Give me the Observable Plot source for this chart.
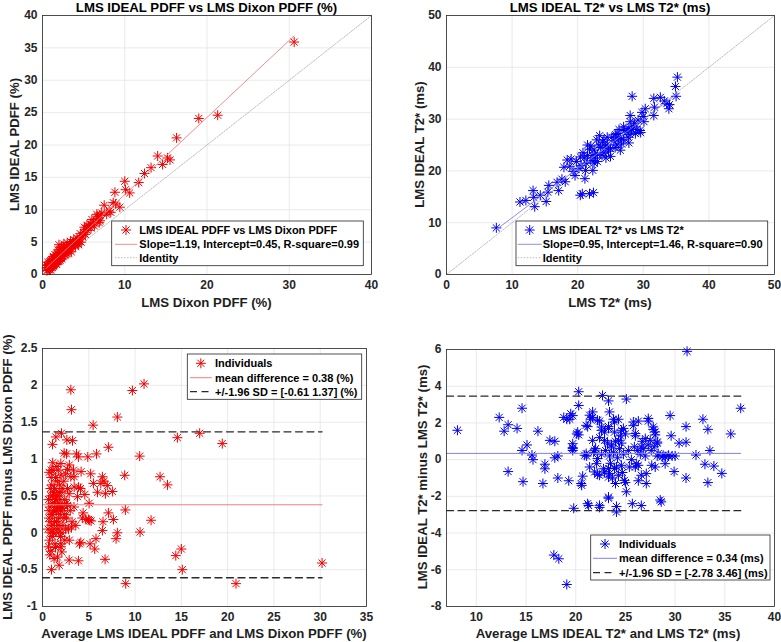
<!DOCTYPE html>
<html>
<head>
<meta charset="utf-8">
<script src="https://cdn.jsdelivr.net/npm/d3@7"></script>
<script src="https://cdn.jsdelivr.net/npm/@observablehq/plot@0.6"></script>
<style>
  html, body { margin: 0; padding: 0; background: #fff; }
  #root { position: relative; width: 781px; height: 642px; overflow: hidden; background: #fff; }
</style>
</head>
<body>
<div id="root"></div>
<script>
// ---------------- DATA ----------------
// Panel A: LMS Dixon PDFF (x) vs LMS IDEAL PDFF (y), %
const pdffScatter = [
  [30.6,35.9],[19.0,24.1],[21.3,24.6],[16.3,21.1],[14.0,18.3],[15.2,18.0],[15.5,17.7],[14.6,17.0],
  [13.2,16.5],[12.4,15.6],[11.7,14.2],[10.0,14.4],[10.1,13.1],[10.6,12.6],[8.8,12.7],[9.4,10.4],
  [8.6,11.1],[7.5,10.7],[8.1,9.8],[7.2,9.5],[6.7,9.0],[8.9,10.9],[8.3,9.6],[7.8,9.3],[7.0,9.1],
  [5.0,6.5],[5.3,7.0],[5.6,7.5],[5.9,7.2],[6.2,8.0],[6.5,8.4],[6.8,8.7],[7.0,8.3],[6.3,7.5],
  [5.5,6.8],[4.8,6.0],[5.1,7.3],[6.0,8.5],[6.6,9.3],[5.8,7.8],[4.6,6.3],[4.9,5.8],[5.2,6.2],
  [6.9,8.0],[5.4,7.6],
  [2.5,3.5],[2.7,3.0],[2.9,4.0],[3.1,3.8],[3.3,4.5],[3.5,4.0],[3.7,4.9],[3.9,4.6],[4.1,5.0],
  [4.3,4.8],[4.5,5.5],[2.6,4.2],[3.0,4.9],[3.4,5.1],[3.8,5.4],[4.2,5.6],[4.4,4.6],[3.2,3.3],
  [2.8,3.6],[3.6,4.4],[4.0,4.3],[2.4,2.8],[2.2,3.4],[2.0,4.6],[1.9,3.8],[4.7,5.0],[3.5,3.5],
  [3.0,3.2],[4.0,5.2],[3.3,4.0],
  [0.5,1.0],[0.6,1.4],[0.7,0.8],[0.8,1.2],[0.9,1.6],[1.0,1.0],[1.1,1.5],[1.2,1.9],[1.3,1.3],
  [1.4,2.0],[1.5,1.7],[1.6,2.4],[1.7,2.0],[1.8,2.6],[1.9,2.2],[2.0,2.9],[2.1,2.5],[2.2,3.0],
  [2.3,2.7],[2.4,3.3],[0.55,0.6],[0.65,1.9],[0.75,1.1],[0.85,0.7],[0.95,1.3],[1.05,2.1],
  [1.15,1.2],[1.25,1.6],[1.35,2.5],[1.45,1.5],[1.55,2.0],[1.65,1.6],[1.75,2.9],[1.85,2.0],
  [1.95,2.4],[2.05,3.5],[2.15,2.2],[2.25,3.9],[2.35,2.4],[2.45,2.9],[0.8,1.7],[1.0,1.4],
  [1.2,1.1],[1.4,1.7],[1.6,1.9],[1.8,2.3],[2.0,2.0],[1.1,2.3],[0.9,2.0],[1.3,2.8],[1.7,1.6],
  [1.5,3.1],[0.7,1.5],[1.2,2.2],[1.9,3.2],[2.1,3.8],[2.3,4.2],[2.6,4.7],[1.0,0.7],[0.6,1.1]
];
const pdffFit = { slope: 1.19, intercept: 0.45 };

// Panel B: LMS T2* (x) vs LMS IDEAL T2* (y), ms
const t2Scatter = [
  [7.6,9.0],[35.2,38.1],[34.9,36.3],[35.0,34.4],[28.3,34.4],[33.9,32.0],[33.6,33.0],[32.6,34.2],
  [31.6,34.0],[31.7,32.3],[31.6,30.7],[30.3,32.0],[29.8,31.3],[29.5,27.8],[29.6,27.4],[28.0,30.7],
  [27.8,25.4],[23.35,26.8],[21.8,15.6],[20.7,15.6],[20.4,15.3],[22.4,15.8],[21.1,18.5],[21.2,20.1],
  [22.3,20.1],[19.6,19.1],[19.3,19.9],[18.8,20.9],[18.4,22.1],[18.1,17.9],[17.6,18.4],[16.85,17.8],
  [17.1,16.2],[15.6,17.2],[15.45,15.9],[15.2,14.1],[14.3,15.3],[13.2,16.2],[13.3,14.9],[13.45,13.1],
  [12.1,14.3],[11.2,14.0],[20.4,22.7],[17.9,20.7],[19.0,22.3],[33.2,33.5],[34.0,32.8],[30.0,30.5],
  [30.1,29.5],
  [20.5,21.0],[21.0,22.5],[21.5,23.0],[22.0,22.0],[22.5,24.0],[23.0,23.2],[23.5,24.5],[24.0,23.5],
  [24.5,25.0],[25.0,24.3],[25.5,25.8],[26.0,25.0],[26.5,26.5],[27.0,26.0],[27.5,27.5],[28.0,27.0],
  [28.5,28.5],[29.0,28.0],[20.8,23.5],[21.3,21.5],[21.8,24.2],[22.2,23.0],[22.7,22.5],[23.2,25.0],
  [23.7,23.0],[24.2,24.8],[24.7,23.8],[25.2,26.5],[25.7,24.5],[26.2,26.2],[26.7,25.2],[27.2,27.8],
  [27.7,26.5],[28.2,28.0],[28.7,29.2],[29.2,29.8],[22.0,24.8],[23.0,21.8],[24.0,26.0],[25.0,22.8],
  [26.0,27.2],[27.0,28.5],[28.0,29.5],[22.5,21.5],[24.5,26.5],[26.5,24.0],[21.5,25.0],[20.2,20.5],
  [19.8,21.8],[23.8,25.6],[25.8,27.0],[27.8,28.2],[28.8,27.2],[26.3,28.0],[24.3,22.5],[22.9,26.0]
];
const t2Fit = { slope: 0.95, intercept: 1.46 };

// Panel C: Bland-Altman PDFF (average, difference), %
const baPdff = [
  [3.06,1.94],[3.13,1.67],[9.71,1.93],[10.97,2.02],[8.09,1.57],[5.47,1.46],[14.57,1.29],[16.98,1.35],
  [19.42,1.21],[7.12,1.16],[10.5,1.04],[5.83,1.07],[4.89,1.03],[8.88,0.78],[12.7,0.76],[13.5,0.65],
  [8.95,0.31],[11.73,0.17],[10.54,0.01],[8.09,0.0],[7.95,-0.08],[14.4,-0.31],[15.0,-0.22],[15.1,-0.5],
  [8.99,-0.69],[20.9,-0.69],[30.2,-0.41],[6.76,-0.36],[5.04,0.40],[4.96,0.18],[7.12,0.27],[7.66,0.18],
  [6.47,0.03],[6.54,0.15],[7.55,0.56],[6.8,0.53],[5.94,0.55],[6.47,0.76],[6.65,0.70],[6.3,0.67],
  [5.5,0.67],[5.2,0.80],[7.0,0.64],[5.78,-0.08],[5.64,-0.22],[5.14,-0.15],[4.14,-0.13],[4.0,-0.15],
  [2.88,-0.37],[3.88,-0.38],[1.8,-0.44],[0.97,-0.5],[4.68,0.18],[4.39,0.27],[4.57,0.52],[4.17,0.83],
  [3.35,0.85],[2.7,0.86],[3.88,1.03],[3.67,1.07],[2.59,1.07],[2.34,1.08],[3.24,1.25],[2.63,1.26],
  [2.05,1.35],[1.44,1.3],[1.08,1.2],[1.98,0.94],[0.72,0.82],[3.42,0.62],[2.88,0.53],[3.78,0.49],
  [2.7,0.37],[2.19,0.33],[3.13,0.08],[2.41,-0.1],[1.98,-0.19],[2.09,-0.26],[1.62,-0.33],[0.65,-0.19],
  [3.42,0.76],[3.06,0.76],[4.1,0.6],[5.1,0.17],[5.25,0.16],[4.3,0.2],[3.9,0.62],[2.0,0.78],[2.9,0.92],
  [0.6,0.05],[0.7,0.2],[0.8,0.35],[0.9,0.5],[1.0,0.1],[1.1,-0.05],[1.2,0.3],[1.3,0.6],[1.4,0.45],
  [1.5,0.15],[1.6,0.7],[1.7,0.0],[1.8,0.4],[1.9,0.25],[2.0,0.55],[2.2,0.1],[2.4,0.45],[2.6,0.2],
  [0.75,-0.1],[0.85,0.6],[0.95,0.75],[1.05,0.4],[1.15,0.85],[1.25,0.05],[1.35,-0.15],[1.45,0.3],
  [1.55,0.9],[1.65,0.5],[1.75,0.2],[1.85,0.65],[1.95,-0.05],[2.1,0.35],[2.3,0.7],[2.5,0.05],
  [0.65,0.45],[0.8,0.15],[0.9,-0.25],[1.0,0.65],[1.1,0.25],[1.2,0.55],[1.3,0.15],[1.4,-0.2],
  [1.5,0.5],[1.6,0.35],[1.7,0.85],[1.8,0.1],[1.9,0.45],[2.0,-0.15],[2.2,0.6],[2.4,0.25],
  [0.7,0.3],[0.85,0.0],[1.0,0.25],[1.1,0.5],[1.2,0.0],[1.3,0.4],[1.4,0.75],[1.5,0.3],[1.6,0.05],
  [1.7,0.35],[1.8,0.55],[1.95,0.3],[2.1,0.0],[2.3,0.2],[2.6,0.4],[2.8,0.05],[3.0,0.3],[3.2,0.15],
  [2.7,0.6],[3.4,0.35],[2.9,-0.1],[3.6,0.1],[2.5,0.8],[1.1,0.95],[0.8,-0.3],[1.25,-0.35],[0.95,0.85]
];
const baPdffStats = { mean: 0.38, lower: -0.61, upper: 1.37 };

// Panel D: Bland-Altman T2* (average, difference), ms
const baT2 = [
  [8.1,1.6],[31.2,5.9],[36.6,2.8],[20.3,3.7],[22.7,3.5],[23.3,3.2],[25.1,3.3],[20.3,2.95],[14.6,2.8],
  [12.3,2.3],[13.2,1.9],[14.1,1.7],[12.8,1.55],[16.2,1.55],[17.4,1.05],[17.9,1.0],[15.1,0.8],
  [14.6,0.5],[15.6,0.25],[15.7,0.0],[16.9,-0.25],[16.9,-0.5],[13.2,-0.65],[14.7,-1.2],[16.7,-1.3],
  [18.2,-1.0],[19.3,-1.15],[20.7,-0.9],[20.6,-1.4],[17.9,0.1],[18.2,0.2],[19.7,0.65],[19.7,0.5],
  [18.8,2.3],[19.4,2.2],[19.7,2.4],[19.1,2.2],[19.5,2.5],[20.3,1.35],[20.1,1.4],[21.1,0.2],[21.2,1.8],
  [21.7,2.3],[21.5,2.2],[22.4,2.1],[19.8,-2.65],[21.3,-2.5],[22.4,-2.6],[23.3,-2.1],[24.1,-2.55],
  [24.1,-2.85],[25.7,-2.4],[26.6,-2.5],[25.1,-1.75],[25.0,-1.25],[27.1,-1.3],[26.3,-1.15],[28.5,-2.2],
  [28.6,-2.3],[29.5,2.4],[29.6,1.3],[29.9,-0.65],[31.1,1.8],[31.1,0.95],[31.1,-1.0],[30.4,0.9],
  [32.1,0.25],[32.8,2.2],[33.3,1.65],[33.5,0.5],[33.0,-0.25],[33.9,-0.35],[33.3,-1.25],[34.7,-0.75],
  [35.6,1.4],[26.3,2.1],[27.3,2.1],[27.8,1.65],[28.0,1.35],[25.0,1.4],[25.8,1.85],[26.0,1.3],
  [17.8,-5.2],[18.3,-5.4],[19.1,-6.8],[28.2,0.2],[28.7,0.15],[29.0,0.15],[29.3,0.2],[29.7,0.2],
  [30.0,0.2],
  [23.4,2.6],[23.8,2.2],[23.9,2.05],[24.6,1.6],[25.8,2.05],[26.0,1.42],[27.3,2.24],[27.8,1.78],
  [28.0,1.51],[27.0,1.15],[27.5,1.05],[26.6,0.69],[28.2,0.96],[28.3,0.33],[28.8,0.24],[29.35,0.24],
  [26.1,-0.22],[26.3,-0.31],[27.65,-0.31],[28.0,-0.4],[29.0,-0.22],[24.6,-0.31],[23.9,-0.49],
  [23.4,-0.76],[24.3,-0.85],[24.9,-1.13],[27.1,-0.76],[26.6,-0.85],[23.6,0.69],[24.3,1.05],
  [22.9,1.05],[22.6,1.78],[20.2,1.5],[19.7,0.87],[19.7,0.6],[20.9,0.24],[21.05,0.33],[21.4,2.42],
  [21.7,2.6],[22.2,2.15],[21.05,1.87],[22.6,1.6],[22.9,1.5],[23.3,1.7],[21.7,1.05],[21.9,0.51],
  [22.2,0.06],[22.1,-0.22],[22.4,-0.85],[22.9,-0.67],[23.3,-0.49],[23.3,-0.95],[21.4,-0.4],
  [21.9,-0.67],[20.55,-1.3],[23.3,-2.04],[21.2,-2.4],[22.4,-2.49],
  [23.0,0.5],[23.2,0.9],[23.4,0.2],[23.6,0.8],[23.8,0.4],[24.0,1.0],[24.2,0.1],[24.4,0.6],[24.6,0.9],
  [24.8,0.3],[23.5,-0.2],[24.1,-0.4],[24.5,1.3],[23.9,1.5],[22.6,0.3],[22.8,-0.5],[25.3,0.5],
  [25.6,0.0],[25.9,0.7],[26.2,0.5],[26.5,0.3],[26.8,0.6],[27.0,0.2],[27.3,0.8],[27.6,0.5],[27.9,0.7],
  [28.2,0.9],[25.4,-0.4],[24.7,-0.7],[23.7,-1.0],[24.0,-1.3],[22.2,-0.8],[22.0,0.6],[22.4,1.2],
  [21.8,0.4],[26.0,-0.4],[26.7,1.0],[23.3,1.8],[24.3,2.2],[24.8,1.7]
];
const baT2Stats = { mean: 0.34, lower: -2.78, upper: 3.46 };

// Axis ticks
const ticksA = { x: [0, 10, 20, 30, 40], y: [0, 5, 10, 15, 20, 25, 30, 35, 40] };
const ticksB = { x: [0, 10, 20, 30, 40, 50], y: [0, 10, 20, 30, 40, 50] };
const ticksC = { x: [0, 5, 10, 15, 20, 25, 30, 35], y: [-1, -0.5, 0, 0.5, 1, 1.5, 2, 2.5] };
const ticksD = { x: [10, 15, 20, 25, 30, 35, 40], y: [-8, -6, -4, -2, 0, 2, 4, 6] };

// Texts
const titles = ["LMS IDEAL PDFF vs LMS Dixon PDFF (%)", "LMS IDEAL T2* vs LMS T2* (ms)"];
const xLabels = ["LMS Dixon PDFF (%)", "LMS T2* (ms)", "Average LMS IDEAL PDFF and LMS Dixon PDFF (%)", "Average LMS IDEAL T2* and LMS T2* (ms)"];
const yLabels = ["LMS IDEAL PDFF (%)", "LMS IDEAL T2* (ms)", "LMS IDEAL PDFF minus LMS Dixon PDFF (%)", "LMS IDEAL T2* minus LMS T2* (ms)"];
const legendA = ["LMS IDEAL PDFF vs LMS Dixon PDFF", "Slope=1.19, Intercept=0.45, R-square=0.99", "Identity"];
const legendB = ["LMS IDEAL T2* vs LMS T2*", "Slope=0.95, Intercept=1.46, R-square=0.90", "Identity"];
const legendC = ["Individuals", "mean difference = 0.38 (%)", "+/-1.96 SD = [-0.61 1.37] (%)"];
const legendD = ["Individuals", "mean difference = 0.34 (ms)", "+/-1.96 SD = [-2.78 3.46] (ms)"];

// ---------------- DRAWING ----------------
const RED = "#f00000", BLUE = "#0000f0";
const RED_LIGHT = "#ee8080", BLUE_LIGHT = "#8080ee";
const GRID = "#e4e4e4", AXIS = "#262626";
const FONT = "'Liberation Sans', Arial, Helvetica, sans-serif";
const root = document.getElementById("root");

// MATLAB-like 8-arm asterisk marker
const star = {
  draw(ctx, size) {
    const r = Math.sqrt(size / Math.PI);
    const d = r * Math.SQRT1_2;
    ctx.moveTo(-r, 0); ctx.lineTo(r, 0);
    ctx.moveTo(0, -r); ctx.lineTo(0, r);
    ctx.moveTo(-d, -d); ctx.lineTo(d, d);
    ctx.moveTo(-d, d); ctx.lineTo(d, -d);
  }
};
const STAR_R = 5;

function makePanel(cfg) {
  const chart = Plot.plot({
    width: cfg.width, height: cfg.height,
    marginLeft: cfg.ml, marginRight: cfg.mr, marginTop: cfg.mt, marginBottom: cfg.mb,
    x: { domain: cfg.xDomain },
    y: { domain: cfg.yDomain },
    style: { fontFamily: FONT, fontSize: "12px", fontWeight: "bold", color: AXIS, background: "transparent", overflow: "visible" },
    marks: [
      Plot.gridX(cfg.ticks.x, { stroke: GRID, strokeOpacity: 1, strokeWidth: 0.8 }),
      Plot.gridY(cfg.ticks.y, { stroke: GRID, strokeOpacity: 1, strokeWidth: 0.8 }),
      Plot.axisX(cfg.ticks.x, { tickSize: 0, tickPadding: 6, tickFormat: d => String(d), label: null }),
      Plot.axisY(cfg.ticks.y, { tickSize: 0, tickPadding: 5, tickFormat: d => String(d), label: null }),
      ...cfg.marks,
      Plot.frame({ stroke: AXIS, strokeWidth: 0.8 })
    ]
  });
  chart.style.position = "absolute";
  chart.style.left = cfg.left + "px";
  chart.style.top = cfg.top + "px";
  root.appendChild(chart);
}

function starDots(data, color) {
  return Plot.dot(data, { x: d => d[0], y: d => d[1], symbol: star, r: STAR_R, stroke: color, strokeWidth: 1, fill: "none" });
}
function fitLine(data, fit, color) {
  const [x0, x1] = d3.extent(data, d => d[0]);
  return Plot.line([x0, x1], { x: d => d, y: d => fit.slope * d + fit.intercept, stroke: color, strokeWidth: 0.9 });
}
function identityLine(domain) {
  return Plot.line(domain, { x: d => d, y: d => d, stroke: "#a8a8a8", strokeWidth: 0.8, strokeDasharray: "1.5,1.5" });
}
function hLine(x0, data, value, stroke, dash, width) {
  const x1 = d3.max(data, d => d[0]);
  return Plot.line([x0, x1], { x: d => d, y: () => value, stroke, strokeWidth: width, strokeDasharray: dash });
}

// Panel A
makePanel({
  left: 0, top: 0, width: 390, height: 320, ml: 42, mr: 19, mt: 15, mb: 46,
  xDomain: [0, 40], yDomain: [0, 40], ticks: ticksA,
  marks: [identityLine([0, 40]), starDots(pdffScatter, RED), fitLine(pdffScatter, pdffFit, RED_LIGHT)]
});
// Panel B
makePanel({
  left: 390, top: 0, width: 391, height: 320, ml: 56, mr: 7, mt: 15, mb: 46,
  xDomain: [0, 50], yDomain: [0, 50], ticks: ticksB,
  marks: [identityLine([0, 50]), starDots(t2Scatter, BLUE), fitLine(t2Scatter, t2Fit, BLUE_LIGHT)]
});
// Panel C
makePanel({
  left: 0, top: 320, width: 390, height: 322, ml: 42, mr: 24, mt: 28, mb: 36,
  xDomain: [0, 35], yDomain: [-1, 2.5], ticks: ticksC,
  marks: [
    starDots(baPdff, RED),
    hLine(0, baPdff, baPdffStats.mean, RED_LIGHT, null, 1),
    hLine(0, baPdff, baPdffStats.upper, "#2a2a2a", "7,4.5", 1.3),
    hLine(0, baPdff, baPdffStats.lower, "#2a2a2a", "7,4.5", 1.3)
  ]
});
// Panel D
makePanel({
  left: 390, top: 320, width: 391, height: 322, ml: 56, mr: 7, mt: 29, mb: 36,
  xDomain: [7, 40], yDomain: [-8, 6], ticks: ticksD,
  marks: [
    starDots(baT2, BLUE),
    hLine(7, baT2, baT2Stats.mean, BLUE_LIGHT, null, 1),
    hLine(7, baT2, baT2Stats.upper, "#2a2a2a", "7,4.5", 1.3),
    hLine(7, baT2, baT2Stats.lower, "#2a2a2a", "7,4.5", 1.3)
  ]
});

// ---------------- OVERLAY: titles, axis labels, legends ----------------
const ov = d3.select(root).append("svg")
  .attr("width", 781).attr("height", 642)
  .style("position", "absolute").style("left", "0px").style("top", "0px")
  .style("pointer-events", "none")
  .attr("font-family", FONT).attr("font-weight", "bold");

function label(text, x, y, size, rotate, color) {
  ov.append("text")
    .attr("transform", `translate(${x},${y})` + (rotate ? " rotate(-90)" : ""))
    .attr("text-anchor", "middle").attr("dominant-baseline", "central")
    .attr("font-size", size).attr("fill", color || "#1e1e1e")
    .text(text);
}
label(titles[0], 206.5, 7, 13.2, false, "#000");
label(titles[1], 610, 7, 13.2, false, "#000");
label(xLabels[0], 206.5, 302, 13.2);
label(xLabels[1], 610, 302, 13.2);
label(xLabels[2], 204, 633, 13.2);
label(xLabels[3], 608, 633, 13.2);
label(yLabels[0], 14, 144.5, 13.2, true);
label(yLabels[1], 419, 144.5, 13.2, true);
label(yLabels[2], 7, 477, 13.2, true);
label(yLabels[3], 422, 477, 13.2, true);

const starPath = d3.symbol(star, Math.PI * STAR_R * STAR_R)();

function legend(box, rows, ix0, ix1, tx, texts) {
  ov.append("rect").attr("x", box[0]).attr("y", box[1])
    .attr("width", box[2] - box[0]).attr("height", box[3] - box[1])
    .attr("fill", "#fff").attr("stroke", AXIS).attr("stroke-width", 0.8);
  rows.forEach((r, i) => {
    const cx = (ix0 + ix1) / 2;
    if (r.kind === "star") {
      ov.append("path").attr("d", starPath).attr("transform", `translate(${cx},${r.y})`)
        .attr("stroke", r.color).attr("fill", "none").attr("stroke-width", 1);
    } else {
      ov.append("line").attr("x1", ix0).attr("x2", r.end || ix1).attr("y1", r.y).attr("y2", r.y)
        .attr("stroke", r.color).attr("stroke-width", r.width || 0.9)
        .attr("stroke-dasharray", r.dash || null);
    }
    ov.append("text").attr("x", tx).attr("y", r.y).attr("dominant-baseline", "central")
      .attr("font-size", 11).attr("fill", "#000").text(texts[i]);
  });
}
legend([111.7, 221, 363.3, 265.7], [
  { kind: "star", color: RED, y: 230 },
  { kind: "line", color: RED_LIGHT, y: 244.3 },
  { kind: "line", color: "#a8a8a8", y: 257.7, dash: "1.5,1.5", width: 0.8 }
], 115, 137, 139.3, legendA);
legend([516, 221, 767.7, 265.7], [
  { kind: "star", color: BLUE, y: 230 },
  { kind: "line", color: BLUE_LIGHT, y: 244.3 },
  { kind: "line", color: "#a8a8a8", y: 257.7, dash: "1.5,1.5", width: 0.8 }
], 517.7, 541.7, 542.7, legendB);
legend([187.3, 354, 361.7, 399.3], [
  { kind: "star", color: RED, y: 363.3 },
  { kind: "line", color: RED_LIGHT, y: 377.7, width: 1 },
  { kind: "line", color: "#2a2a2a", y: 391.7, dash: "7,4.5", width: 1.3, end: 209 }
], 190, 211.7, 215, legendC);
legend([590.7, 535, 770, 580], [
  { kind: "star", color: BLUE, y: 544 },
  { kind: "line", color: BLUE_LIGHT, y: 558.3, width: 1 },
  { kind: "line", color: "#2a2a2a", y: 572.7, dash: "7,4.5", width: 1.3, end: 612 }
], 593, 617, 619, legendD);
</script>
</body>
</html>
